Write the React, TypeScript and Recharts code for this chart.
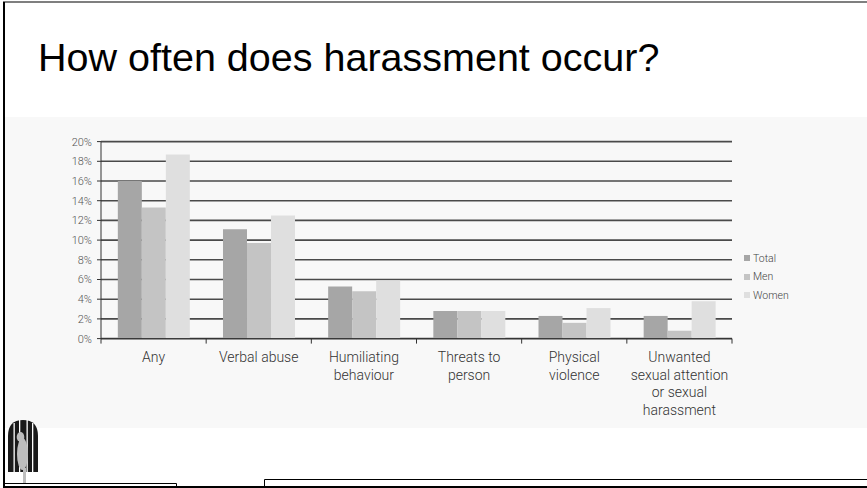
import { BarChart, Bar, XAxis, YAxis, CartesianGrid, Legend } from "recharts";

const CATEGORIES = [
  "Any",
  "Verbal abuse",
  "Humiliating\nbehaviour",
  "Threats to\nperson",
  "Physical\nviolence",
  "Unwanted\nsexual attention\nor sexual\nharassment",
];
const TOTAL = [16.0, 11.1, 5.3, 2.8, 2.3, 2.3];
const MEN = [13.3, 9.7, 4.8, 2.8, 1.6, 0.8];
const WOMEN = [18.7, 12.5, 5.9, 2.8, 3.1, 3.8];
const Y_TICKS = [0, 2, 4, 6, 8, 10, 12, 14, 16, 18, 20];

const SERIES = [
  { key: "Total", values: TOTAL, color: "#a6a6a6" },
  { key: "Men", values: MEN, color: "#c4c4c4" },
  { key: "Women", values: WOMEN, color: "#dfdfdf" },
];

const data = CATEGORIES.map((category, i) => {
  const row: Record<string, string | number> = { category };
  for (const s of SERIES) row[s.key] = s.values[i];
  return row;
});

const W = 867;
const CHART_H = 311;
const Y_AXIS_W = 101;
const RIGHT = 135;
const BAND = (W - Y_AXIS_W - RIGHT) / CATEGORIES.length;
const FONT = "Roboto, 'Liberation Sans', Arial, sans-serif";

function CategoryTick(props: any) {
  const { x, y, payload, index } = props;
  const lines = String(payload.value).split("\n");
  const last = index === CATEGORIES.length - 1;
  return (
    <g>
      <line x1={x - BAND / 2} x2={x - BAND / 2} y1={y} y2={y + 5} stroke="#333" />
      {last && <line x1={x + BAND / 2} x2={x + BAND / 2} y1={y} y2={y + 5} stroke="#333" />}
      <text
        textAnchor="middle"
        fontFamily={FONT}
        fontWeight={300}
        fontSize={14}
        fill="#333"
      >
        {lines.map((ln, i) => (
          <tspan key={i} x={x} y={y + 23.5 + i * 17.5}>
            {ln}
          </tspan>
        ))}
      </text>
    </g>
  );
}

function LegendBox() {
  return (
    <div style={{ fontFamily: FONT, fontWeight: 300, fontSize: 10.5, color: "#444", textAlign: "left" }}>
      {SERIES.map((s) => (
        <div key={s.key} style={{ height: 18.5, display: "flex", alignItems: "center" }}>
          <span
            style={{ width: 6, height: 6, background: s.color, marginRight: 3, display: "inline-block" }}
          />
          {s.key}
        </div>
      ))}
    </div>
  );
}

function Cage() {
  return (
    <g>
      <path d="M8 472 L8 436 Q8 420 23 420 Q38 420 38 436 L38 472 Z" fill="#1a1a1a" />
      <rect x={13.5} y={423} width={1.3} height={49} fill="#fff" />
      <rect x={19} y={420} width={1.3} height={52} fill="#fff" />
      <rect x={26.5} y={420} width={1.3} height={52} fill="#fff" />
      <rect x={32} y={423} width={1.3} height={49} fill="#fff" />
      <ellipse cx={22.5} cy={454} rx={5.5} ry={16} fill="#bdbdbd" />
      <ellipse cx={20.5} cy={437} rx={3.8} ry={5} fill="#bdbdbd" />
      <rect x={23} y={468} width={3} height={16} fill="#bdbdbd" />
    </g>
  );
}

export default function App() {
  return (
    <div style={{ position: "absolute", left: 0, top: 0, width: W, height: 488, background: "#fff", overflow: "hidden" }}>
      <svg width={W} height={488} style={{ position: "absolute", left: 0, top: 0 }}>
        <rect x={4} y={117} width={W - 4} height={311} fill="#f8f8f8" />
        <line x1={3} x2={W} y1={2} y2={2} stroke="#555" strokeWidth={1.5} />
        <line x1={4} x2={4} y1={2} y2={488} stroke="#000" strokeWidth={2} />
        <text x={38} y={71} fontFamily="'Liberation Sans', Arial, sans-serif" fontSize={39.5} fill="#000">
          How often does harassment occur?
        </text>
        <Cage />
        <polyline points="4,483.5 176.5,483.5 176.5,488" fill="none" stroke="#000" strokeWidth={1} />
        <polyline points="264.5,488 264.5,479.5 867,479.5" fill="none" stroke="#000" strokeWidth={1} />
        <line x1={3} x2={W} y1={487} y2={487} stroke="#000" strokeWidth={2} />
      </svg>
      <div style={{ position: "absolute", left: 0, top: 117 }}>
        <BarChart
          width={W}
          height={CHART_H}
          data={data}
          margin={{ top: 24.6, right: RIGHT, bottom: 29.4, left: 0 }}
          barCategoryGap="16%"
          barGap={0}
        >
          <CartesianGrid vertical={false} stroke="#4a4a4a" strokeWidth={1.6} />
          <XAxis
            dataKey="category"
            interval={0}
            height={60}
            axisLine={{ stroke: "#333" }}
            tickLine={false}
            tickSize={0}
            tickMargin={0}
            tick={<CategoryTick />}
          />
          <YAxis
            width={Y_AXIS_W}
            domain={[0, 20]}
            ticks={Y_TICKS}
            interval={0}
            tickFormatter={(v) => `${v}%`}
            axisLine={{ stroke: "#333" }}
            tickLine={{ stroke: "#333" }}
            tickSize={4}
            tickMargin={5}
            tick={{ fontFamily: FONT, fontWeight: 300, fontSize: 11, fill: "#555" }}
          />
          <Legend
            layout="horizontal"
            verticalAlign="middle"
            align="center"
            wrapperStyle={{ left: 744, top: 132, width: 80 }}
            content={<LegendBox />}
          />
          {SERIES.map((s) => (
            <Bar key={s.key} dataKey={s.key} fill={s.color} isAnimationActive={false} />
          ))}
        </BarChart>
      </div>
    </div>
  );
}
